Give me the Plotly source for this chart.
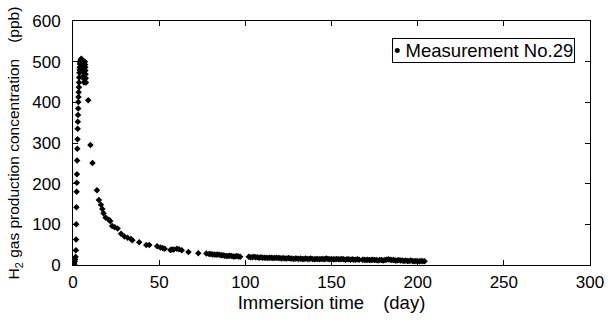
import plotly.graph_objects as go

# --- data ---
rise_day = [0.2, 0.4, 0.6, 0.8, 1.0, 1.2, 1.5, 1.7, 1.8, 1.9, 2.0, 2.1, 2.2, 2.3, 2.4,
            2.5, 2.6, 2.7, 2.8, 2.9, 3.0, 3.1, 3.2, 3.3, 3.4, 3.5, 3.6, 3.7, 3.8, 3.9,
            4.0, 4.2, 4.4, 4.6, 4.8]
rise_val = [0, 3, 6, 2, 9, 14, 20, 36, 63, 100, 142, 180, 202, 223, 257,
            286, 309, 335, 352, 369, 385, 401, 413, 425, 437, 449, 461, 473, 480, 486,
            494, 498, 502, 505, 507]

peak_day = [5.0, 5.2, 5.4, 5.6, 5.8, 6.0, 6.1, 6.2, 6.3, 6.4, 6.9, 7.0, 7.1, 7.2, 7.3, 7.4, 7.5]
peak_val = [506, 503, 499, 494, 488, 481, 474, 466, 458, 449, 500, 493, 486, 478, 469, 459, 449]

decay_day = [8.8, 10.1, 11.3, 13.9, 15.0, 16.2, 17.0, 17.7, 18.9, 20.8, 21.6, 22.7, 24.2,
             25.9, 27.9, 29.8, 31.7, 33.6, 34.5, 38.4, 42.5, 44.3, 48.8, 50.7, 52.0, 53.2,
             56.5, 57.4, 58.5, 60.3, 61.5, 63.1, 67.0, 72.7, 77.4]
decay_val = [405, 295, 251, 184, 160, 148, 138, 127, 117, 111, 108, 96, 93,
             90, 77, 70, 67, 64, 61, 56, 49, 49, 46, 43, 42, 40,
             37, 38, 38, 40, 39, 36, 32, 29, 28]

mid_day = [79, 80, 81, 82, 83, 84, 85, 86, 87, 88, 89, 90, 91, 92, 93, 94, 95, 96, 97]
mid_val = [27, 27, 26, 26, 25, 26, 25, 24, 24, 23, 22, 22, 23, 22, 21, 21, 22, 21, 20]

tail_a_day = [102, 103, 104, 105, 106, 107, 108, 109, 110, 111,
              112, 113, 114, 115, 116, 117, 118, 119, 120, 121,
              122, 123, 124, 125, 126, 127, 128, 129, 130, 131,
              132, 133, 134, 135, 136, 137, 138, 139, 140, 141,
              142, 143, 144, 145, 146, 147, 148, 149, 150, 151,
              152, 153, 154, 155, 156, 157, 158, 159, 160, 161,
              162, 163, 164, 165, 166]
tail_a_val = [20, 19, 19, 20, 19, 19, 18, 19, 18, 18,
              18, 17, 18, 18, 17, 17, 18, 17, 17, 16,
              17, 16, 16, 17, 16, 16, 15, 16, 16, 15,
              16, 15, 15, 16, 15, 15, 16, 15, 14, 15,
              15, 14, 15, 15, 14, 16, 15, 14, 15, 14,
              14, 15, 14, 14, 15, 14, 13, 14, 14, 13,
              14, 13, 13, 14, 13]

tail_b_day = [168, 169, 170, 171, 172, 173, 174, 175, 176, 177,
              178, 179, 180, 181, 182, 183, 184, 185, 186, 187,
              188, 189, 190, 191, 192, 193, 194, 195, 196, 197,
              198, 199, 200, 201, 202, 203, 204]
tail_b_val = [13, 13, 12, 13, 12, 12, 13, 12, 12, 11,
              12, 12, 11, 12, 13, 14, 13, 12, 12, 11,
              11, 12, 11, 11, 10, 11, 10, 10, 11, 10,
              9, 10, 9, 9, 10, 9, 9]

x_ticks = [0, 50, 100, 150, 200, 250, 300]
y_ticks = [0, 100, 200, 300, 400, 500, 600]
series_name = "Measurement No.29"

days = rise_day + peak_day + decay_day + mid_day + tail_a_day + tail_b_day
vals = rise_val + peak_val + decay_val + mid_val + tail_a_val + tail_b_val

FONT = "Arial, Liberation Sans, sans-serif"

fig = go.Figure()
fig.add_trace(go.Scatter(
    x=days, y=vals, mode="markers", name=series_name, showlegend=False,
    marker=dict(symbol="diamond", size=5, color="black"),
))

axis_common = dict(
    showline=True, linecolor="black", linewidth=1, mirror="ticks",
    ticks="inside", ticklen=5, tickcolor="black", showgrid=False, zeroline=False,
    tickfont=dict(family=FONT, size=17, color="black"),
)

fig.update_layout(
    width=616, height=320,
    margin=dict(l=73, r=18, t=18, b=55),
    plot_bgcolor="white", paper_bgcolor="white",
    font=dict(family=FONT, size=17, color="black"),
    xaxis=dict(range=[0, 300], tickvals=x_ticks, ticklabelstandoff=2,
               title=dict(text="Immersion time\u3000(day)", font=dict(family=FONT, size=18.5), standoff=2),
               **axis_common),
    yaxis=dict(range=[0, 600], tickvals=y_ticks, ticklabelstandoff=8,
               title=dict(text="H<sub>2</sub> gas production concentration\u3000(ppb)",
                          font=dict(family=FONT, size=15.5), standoff=8),
               **axis_common),
)

# legend box (drawn as a bordered text box, like the reference)
fig.add_annotation(
    xref="paper", yref="paper", x=0.617, y=0.93, xanchor="left", yanchor="top",
    text="\u2022 " + series_name, showarrow=False,
    font=dict(family=FONT, size=18.5, color="black"),
    bordercolor="black", borderwidth=1, borderpad=1, bgcolor="white",
)

fig.write_html("out.html")
